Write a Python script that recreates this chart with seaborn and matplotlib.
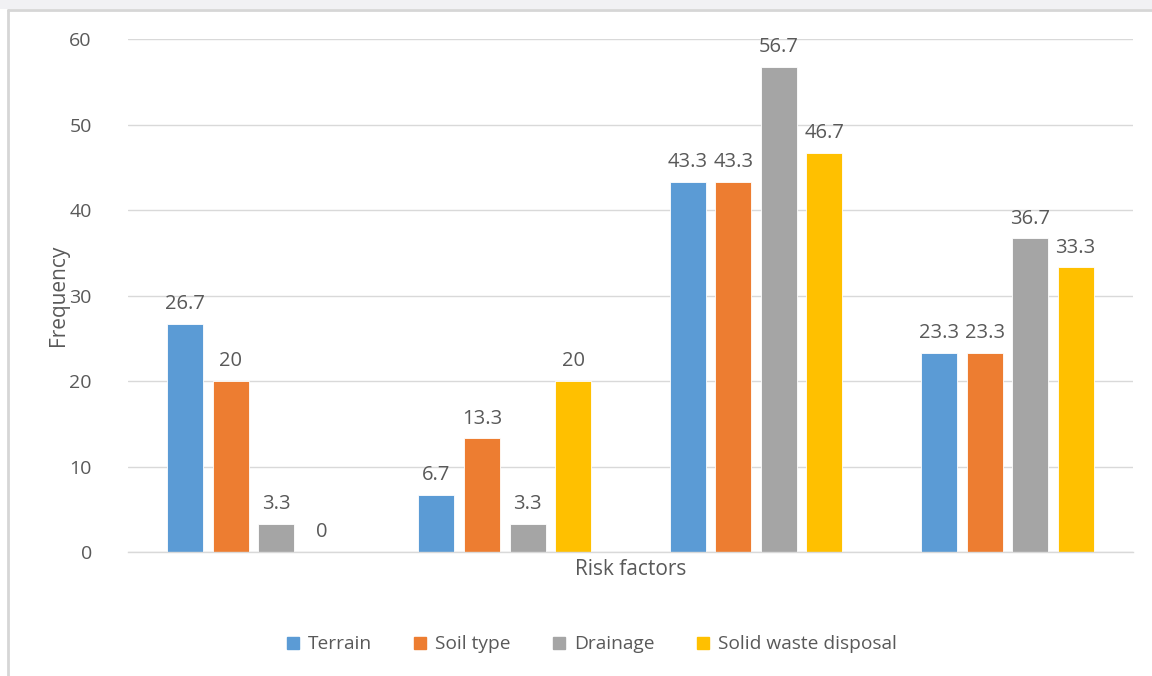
import matplotlib
matplotlib.use("Agg")
import matplotlib.pyplot as plt
from matplotlib.lines import Line2D
from matplotlib.patches import Rectangle
import seaborn as sns
import pandas as pd

# Survey results (% of respondents) per risk factor group
groups = ["G1", "G2", "G3", "G4"]
series = ["Terrain", "Soil type", "Drainage", "Solid waste disposal"]
terrain = [26.7, 6.7, 43.3, 23.3]
soil_type = [20, 13.3, 43.3, 23.3]
drainage = [3.3, 3.3, 56.7, 36.7]
solid_waste = [0, 20, 46.7, 33.3]
yticks = [0, 10, 20, 30, 40, 50, 60]

colors = ["#5B9BD5", "#ED7D31", "#A5A5A5", "#FFC000"]
text_color = "#595959"

rows = []
for name, vals in zip(series, [terrain, soil_type, drainage, solid_waste]):
    for g, v in zip(groups, vals):
        rows.append({"group": g, "series": name, "value": v})
df = pd.DataFrame(rows)

sns.set_theme(style="white")
plt.rcParams["font.family"] = ["Open Sans", "DejaVu Sans"]

fig = plt.figure(figsize=(11.52, 6.76), dpi=100)
ax = fig.add_axes([0.111, 0.1834, 0.8725, 0.7589])

sns.barplot(data=df, x="group", y="value", hue="series", order=groups,
            hue_order=series, palette=colors, width=0.725, gap=0.21,
            saturation=1, errorbar=None, ax=ax, legend=False,
            edgecolor="white", linewidth=0.6)

ax.set_ylim(0, 60)
ax.set_xlim(-0.5, len(groups) - 0.5)
ax.set_yticks(yticks)
ax.set_yticklabels([str(t) for t in yticks], color=text_color, fontsize=14)
ax.set_xticks([])
ax.yaxis.grid(True, color="#D9D9D9", linewidth=1)
ax.set_axisbelow(True)
for s in ["top", "right", "left"]:
    ax.spines[s].set_visible(False)
ax.spines["bottom"].set_color("#D9D9D9")
ax.spines["bottom"].set_linewidth(1)
ax.tick_params(axis="y", length=0, pad=26)

ax.set_ylabel("Frequency", color=text_color, fontsize=15, labelpad=0)
ax.set_xlabel("Risk factors", color=text_color, fontsize=15, labelpad=5)

for cont in ax.containers:
    labels = [f"{v:g}" for v in cont.datavalues]
    ax.bar_label(cont, labels=labels, padding=7, color=text_color, fontsize=14.5)

handles = [Line2D([0], [0], marker="s", linestyle="none", markersize=8,
                  markerfacecolor=c, markeredgecolor=c) for c in colors]
fig.legend(handles, series, loc="center", bbox_to_anchor=(0.508, 0.047),
           ncol=4, frameon=False, fontsize=13.8, labelcolor=text_color,
           handletextpad=-0.2, columnspacing=1.5)

# page frame and faint banner at top
fig.add_artist(Line2D([0.007, 1.0], [0.985, 0.985], transform=fig.transFigure,
                      color="#D6D6D6", linewidth=2))
fig.add_artist(Line2D([0.007, 0.007], [0.0, 0.985], transform=fig.transFigure,
                      color="#D6D6D6", linewidth=2))
fig.add_artist(Rectangle((0.0, 0.987), 1.0, 0.013, transform=fig.transFigure,
                         facecolor="#F1F1F4", edgecolor="none"))

fig.savefig("out.png", dpi=100)
